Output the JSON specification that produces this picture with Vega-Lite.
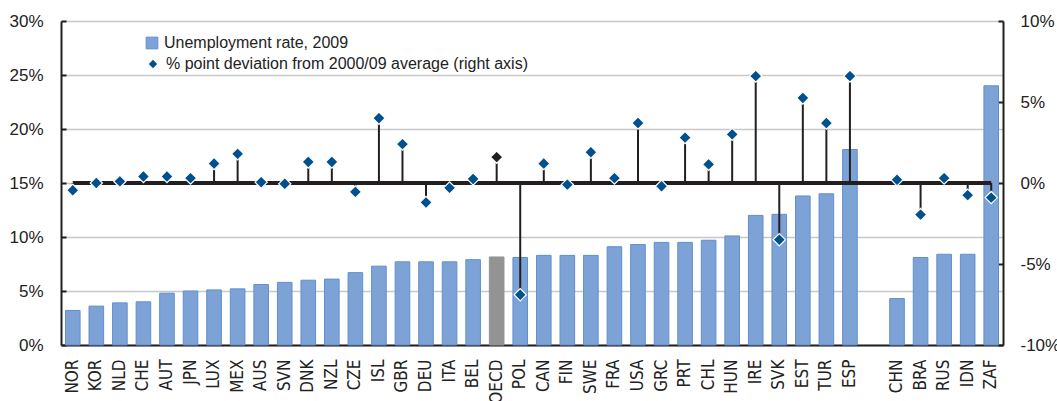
{
  "$schema": "https://vega.github.io/schema/vega-lite/v6.json",
  "autosize": {"type": "none"},
  "padding": {"left": 61, "top": 21, "right": 54, "bottom": 56},
  "width": 942,
  "height": 324,
  "background": "white",
  "config": {
    "view": {"stroke": null},
    "font": "Liberation Sans"
  },
  "data": {
    "values": [
      {"country": "NOR", "rate": 3.2, "dev": -0.45},
      {"country": "KOR", "rate": 3.6, "dev": 0.0},
      {"country": "NLD", "rate": 3.9, "dev": 0.1},
      {"country": "CHE", "rate": 4.0, "dev": 0.4},
      {"country": "AUT", "rate": 4.8, "dev": 0.4},
      {"country": "JPN", "rate": 5.0, "dev": 0.3},
      {"country": "LUX", "rate": 5.1, "dev": 1.2},
      {"country": "MEX", "rate": 5.2, "dev": 1.8},
      {"country": "AUS", "rate": 5.6, "dev": 0.05},
      {"country": "SVN", "rate": 5.8, "dev": -0.05},
      {"country": "DNK", "rate": 6.0, "dev": 1.3},
      {"country": "NZL", "rate": 6.1, "dev": 1.3},
      {"country": "CZE", "rate": 6.7, "dev": -0.55},
      {"country": "ISL", "rate": 7.3, "dev": 4.0},
      {"country": "GBR", "rate": 7.7, "dev": 2.4},
      {"country": "DEU", "rate": 7.7, "dev": -1.2},
      {"country": "ITA", "rate": 7.7, "dev": -0.3},
      {"country": "BEL", "rate": 7.9, "dev": 0.25},
      {"country": "OECD", "rate": 8.15, "dev": 1.6},
      {"country": "POL", "rate": 8.1, "dev": -6.9},
      {"country": "CAN", "rate": 8.3, "dev": 1.2},
      {"country": "FIN", "rate": 8.3, "dev": -0.1},
      {"country": "SWE", "rate": 8.3, "dev": 1.9},
      {"country": "FRA", "rate": 9.1, "dev": 0.3},
      {"country": "USA", "rate": 9.3, "dev": 3.7},
      {"country": "GRC", "rate": 9.5, "dev": -0.2},
      {"country": "PRT", "rate": 9.5, "dev": 2.8},
      {"country": "CHL", "rate": 9.7, "dev": 1.15},
      {"country": "HUN", "rate": 10.1, "dev": 3.0},
      {"country": "IRE", "rate": 12.0, "dev": 6.6},
      {"country": "SVK", "rate": 12.1, "dev": -3.5},
      {"country": "EST", "rate": 13.8, "dev": 5.25},
      {"country": "TUR", "rate": 14.0, "dev": 3.7},
      {"country": "ESP", "rate": 18.1, "dev": 6.6},
      {"country": "CHN", "rate": 4.3, "dev": 0.2},
      {"country": "BRA", "rate": 8.1, "dev": -1.95},
      {"country": "RUS", "rate": 8.4, "dev": 0.3},
      {"country": "IDN", "rate": 8.4, "dev": -0.75},
      {"country": "ZAF", "rate": 24.0, "dev": -0.9}
    ]
  },
  "encoding": {
    "x": {
      "field": "country",
      "type": "nominal",
      "sort": null,
      "scale": {
        "domain": ["NOR","KOR","NLD","CHE","AUT","JPN","LUX","MEX","AUS","SVN","DNK","NZL","CZE","ISL","GBR","DEU","ITA","BEL","OECD","POL","CAN","FIN","SWE","FRA","USA","GRC","PRT","CHL","HUN","IRE","SVK","EST","TUR","ESP"," ","CHN","BRA","RUS","IDN","ZAF"],
        "paddingInner": 0.38,
        "paddingOuter": 0.19
      },
      "axis": {
        "title": null,
        "labelAngle": -90,
        "labelAlign": "right",
        "labelBaseline": "middle",
        "labelFont": "DejaVu Sans Condensed, Liberation Sans",
        "labelFontSize": 17,
        "labelColor": "#222222",
        "labelPadding": 14,
        "ticks": false,
        "domainColor": "#231f20",
        "domainWidth": 2,
        "grid": false
      }
    }
  },
  "layer": [
    {
      "mark": {"type": "bar", "strokeWidth": 1},
      "encoding": {
        "y": {
          "field": "rate",
          "type": "quantitative",
          "scale": {"domain": [0, 30], "nice": false},
          "axis": {
            "title": null,
            "values": [0, 5, 10, 15, 20, 25, 30],
            "labelExpr": "datum.value + '%'",
            "labelFontSize": 17,
            "labelColor": "#222222",
            "labelPadding": 23,
            "tickSize": -5,
            "tickColor": "#231f20",
            "tickWidth": 2,
            "domainColor": "#231f20",
            "domainWidth": 2,
            "grid": true,
            "gridColor": "#c8c8c8",
            "gridWidth": 1.5
          }
        },
        "color": {
          "condition": {"test": "datum.country === 'OECD'", "value": "#939393"},
          "datum": "Unemployment rate, 2009",
          "scale": {
            "domain": ["Unemployment rate, 2009"],
            "range": ["#7da3d6"]
          },
          "legend": {
            "orient": "none",
            "legendX": 83,
            "legendY": 14,
            "title": null,
            "padding": 0,
            "labelFont": "Liberation Sans",
            "labelFontSize": 16,
            "labelColor": "#222222",
            "labelOffset": 4,
            "labelLimit": 600,
            "symbolSize": 137,
            "symbolType": "square",
            "symbolStrokeColor": "#5f8fd0",
            "symbolStrokeWidth": 1
          }
        },
        "stroke": {
          "condition": {"test": "datum.country === 'OECD'", "value": "#939393"},
          "value": "#5f8fd0"
        }
      }
    },
    {
      "encoding": {
        "y": {
          "field": "dev",
          "type": "quantitative",
          "scale": {"domain": [-10, 10], "nice": false},
          "axis": {
            "title": null,
            "orient": "right",
            "values": [-10, -5, 0, 5, 10],
            "labelExpr": "datum.value + '%'",
            "labelFontSize": 17,
            "labelColor": "#222222",
            "labelPadding": 22,
            "tickSize": -5,
            "tickColor": "#231f20",
            "tickWidth": 2,
            "domainColor": "#231f20",
            "domainWidth": 2,
            "grid": false
          }
        }
      },
      "layer": [
        {
          "data": {"values": [{"country": "NOR", "dev": 0}, {"country": "ZAF", "dev": 0}]},
          "mark": {"type": "line", "color": "#231f20", "strokeWidth": 4, "strokeCap": "butt"},
          "encoding": {}
        },
        {
          "mark": {"type": "rule", "color": "#231f20", "strokeWidth": 2},
          "encoding": {"y2": {"datum": 0}}
        },
        {
          "mark": {"type": "point", "filled": true, "opacity": 1, "size": 150, "color": "#00508f", "fill": "#00508f", "stroke": "white", "strokeWidth": 1.2},
          "encoding": {
            "shape": {
              "datum": "% point deviation from 2000/09 average (right axis)",
              "scale": {"domain": ["% point deviation from 2000/09 average (right axis)"], "range": ["diamond"]},
              "legend": {
                "orient": "none",
                "legendX": 84,
                "legendY": 35,
                "title": null,
                "padding": 0,
                "labelFont": "Liberation Sans",
                "labelFontSize": 16,
                "labelColor": "#222222",
                "labelOffset": 5,
                "labelLimit": 600,
                "symbolSize": 70,
                "symbolFillColor": "#00508f",
                "symbolStrokeColor": "#00508f",
                "symbolStrokeWidth": 0
              }
            }
          }
        },
        {
          "transform": [{"filter": "datum.country === 'OECD'"}],
          "mark": {"type": "point", "shape": "diamond", "filled": true, "opacity": 1, "size": 150, "stroke": "white", "strokeWidth": 1.2, "fill": "#231f20", "color": "#231f20"},
          "encoding": {}
        }
      ]
    }
  ],
  "resolve": {"scale": {"y": "independent"}}
}
